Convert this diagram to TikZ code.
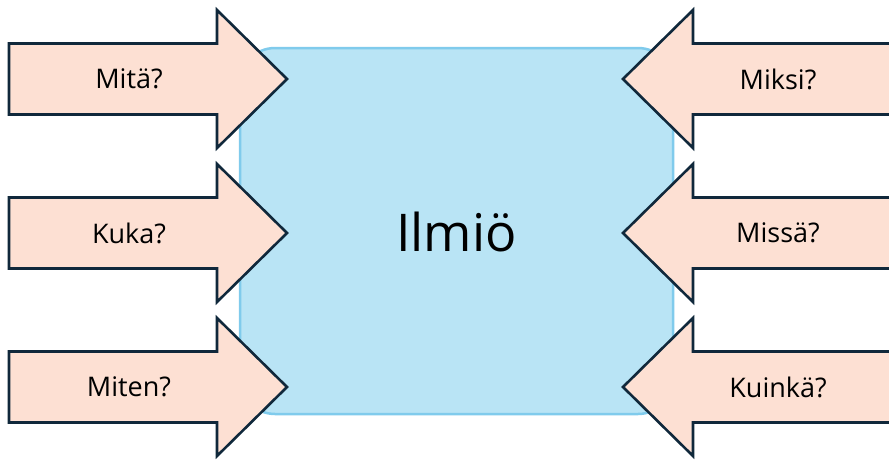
\documentclass[tikz,border=0pt]{standalone}
\usepackage{fontspec}
\setmainfont{Open Sans}
\definecolor{ilmiofill}{HTML}{B9E4F5}
\definecolor{ilmioline}{HTML}{80CBEC}
\definecolor{nuolifill}{HTML}{FDE0D3}
\definecolor{nuoliline}{HTML}{10283B}
\begin{document}
\begin{tikzpicture}[x=1pt,y=-1pt,
    nuoli/.style={draw=nuoliline,fill=nuolifill,line width=2.6pt,line join=miter},
    kysymys/.style={font=\fontsize{27}{31}\selectfont}]
    \clip (0,0) rectangle (889,459);
    \fill[white] (0,0) rectangle (889,459);
    \draw[ilmioline,fill=ilmiofill,line width=2.5pt,rounded corners=35pt] (240,48) rectangle (673,414);
    \node (ilmio) at (456.5,232) {\fontsize{52}{62}\selectfont Ilmiö};
    % nuolet vasemmalta
    \foreach \y/\nimi/\teksti in {79/mita/Mitä?,233/kuka/Kuka?,387/miten/Miten?}{
        \draw[nuoli] (9,\y-35.5)--(217,\y-35.5)--(217,\y-69)--(287,\y)--(217,\y+69)--(217,\y+35.5)--(9,\y+35.5)--cycle;
        \node[kysymys] (\nimi) at (129,\y) {\teksti};
    }
    % nuolet oikealta
    \foreach \y/\nimi/\teksti in {79/miksi/Miksi?,233/missa/Missä?,387/kuinka/Kuinkä?}{
        \draw[nuoli] (901,\y-35.5)--(693,\y-35.5)--(693,\y-69)--(623,\y)--(693,\y+69)--(693,\y+35.5)--(901,\y+35.5)--cycle;
        \node[kysymys] (\nimi) at (778,\y) {\teksti};
    }
\end{tikzpicture}
\end{document}
